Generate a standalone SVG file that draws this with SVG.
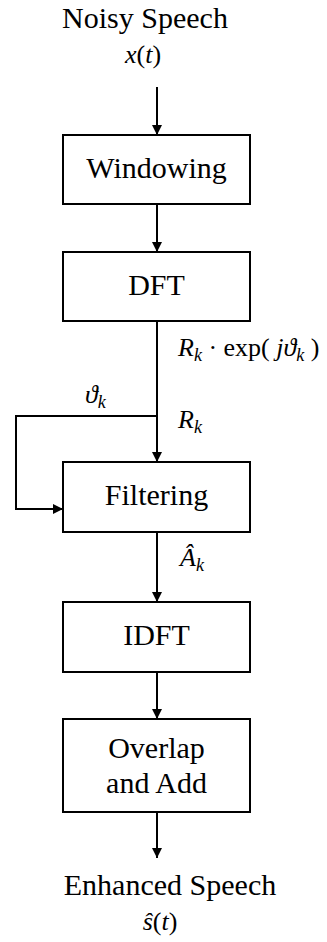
<svg xmlns="http://www.w3.org/2000/svg" width="327" height="942" viewBox="0 0 327 942">
<style>
  .box { fill: #ffffff; stroke: #000000; stroke-width: 2; }
  .lbl { font-family: 'Liberation Serif', 'Times New Roman', Tinos, 'DejaVu Serif', serif; font-size: 30px; fill: #000000; text-anchor: middle; }
  .math { font-family: 'Liberation Serif', 'Times New Roman', Tinos, 'DejaVu Serif', serif; font-size: 26px; fill: #000000; }
  .it { font-style: italic; }
  .sub { font-style: italic; font-size: 18px; }
  .wire { fill: none; stroke: #000000; stroke-width: 2; }
</style>
<defs>
  <marker id="arr" markerUnits="userSpaceOnUse" markerWidth="10" markerHeight="10" refX="10" refY="5" orient="auto">
    <path d="M0,0 L10,5 L0,10 z" fill="#000000"/>
  </marker>
</defs>
<rect width="327" height="942" fill="#ffffff"/>

<g id="input">
  <text class="lbl" x="145" y="28">Noisy Speech</text>
  <text class="math" x="143" y="63" text-anchor="middle"><tspan class="it">x</tspan>(<tspan class="it">t</tspan>)</text>
</g>

<g id="windowing">
  <rect class="box" x="63" y="135" width="187" height="69"/>
  <text class="lbl" x="156.5" y="178">Windowing</text>
</g>

<g id="dft">
  <rect class="box" x="63" y="252" width="187" height="69"/>
  <text class="lbl" x="156.5" y="295">DFT</text>
</g>

<g id="filtering">
  <rect class="box" x="63" y="462" width="187" height="70"/>
  <text class="lbl" x="156.5" y="505">Filtering</text>
</g>

<g id="idft">
  <rect class="box" x="63" y="602" width="187" height="70"/>
  <text class="lbl" x="156.5" y="645">IDFT</text>
</g>

<g id="overlap">
  <rect class="box" x="63" y="719" width="187" height="93"/>
  <text class="lbl" x="156.5" y="758">Overlap</text>
  <text class="lbl" x="156.5" y="793">and Add</text>
</g>

<g id="output">
  <text class="lbl" x="170" y="895">Enhanced Speech</text>
  <text class="math" x="160" y="930" text-anchor="middle"><tspan class="it">ŝ</tspan>(<tspan class="it">t</tspan>)</text>
</g>

<g id="connectors">
  <line class="wire" x1="157" y1="87" x2="157" y2="135" marker-end="url(#arr)"/>
  <line class="wire" x1="157" y1="204" x2="157" y2="252" marker-end="url(#arr)"/>
  <line class="wire" x1="157" y1="321" x2="157" y2="462" marker-end="url(#arr)"/>
  <polyline class="wire" points="157,416 16,416 16,509 63,509" marker-end="url(#arr)"/>
  <line class="wire" x1="157" y1="532" x2="157" y2="602" marker-end="url(#arr)"/>
  <line class="wire" x1="157" y1="672" x2="157" y2="719" marker-end="url(#arr)"/>
  <line class="wire" x1="157" y1="812" x2="157" y2="858" marker-end="url(#arr)"/>
</g>

<g id="labels">
  <text class="math" x="178" y="356"><tspan class="it">R</tspan><tspan class="sub" dy="5">k</tspan><tspan dy="-5"> · exp( </tspan><tspan class="it">j</tspan><tspan class="it">ϑ</tspan><tspan class="sub" dy="5">k</tspan><tspan dy="-5"> )</tspan></text>
  <text class="math" x="85" y="403"><tspan class="it">ϑ</tspan><tspan class="sub" dy="5">k</tspan></text>
  <text class="math" x="178" y="428"><tspan class="it">R</tspan><tspan class="sub" dy="5">k</tspan></text>
  <text class="math" x="180" y="566"><tspan class="it">Â</tspan><tspan class="sub" dy="5">k</tspan></text>
</g>
</svg>
